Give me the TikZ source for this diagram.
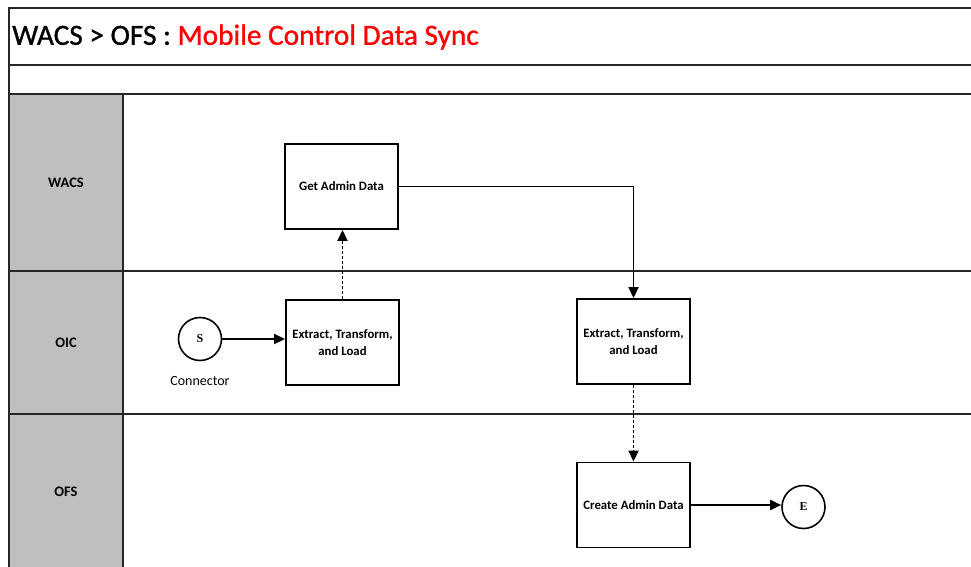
\documentclass[tikz,border=0pt]{standalone}
\usepackage{fontspec}
\setmainfont{Carlito}
\newfontfamily\seriffont{Liberation Serif}
\newfontfamily\titlefont[FakeBold=1]{Carlito}
\usetikzlibrary{arrows.meta}
\definecolor{lanegray}{RGB}{191,191,191}
\definecolor{titlered}{RGB}{255,0,0}
\begin{document}
\begin{tikzpicture}[x=1pt,y=-1pt,
  frame/.style={line width=2pt, black!85},
  proc/.style={draw, line width=1.9pt, minimum width=113pt, minimum height=85pt, align=center, font=\fontsize{12.8}{17}\selectfont\bfseries, inner sep=0pt},
  term/.style={draw, circle, line width=1.6pt, minimum size=43pt, inner sep=0pt, font=\seriffont\bfseries\fontsize{12}{14}\selectfont},
  lanelabel/.style={font=\fontsize{14.5}{17}\selectfont\bfseries},
  flow/.style={line width=1.8pt, -{Triangle[length=11pt,width=10pt]}},
  dflow/.style={flow, dash pattern=on 3pt off 2pt}]
\useasboundingbox (0,0) rectangle (971,567);
% swimlane frame
\fill[lanegray] (9,94) rectangle (123,580);
\draw[frame] (985,8) -- (9,8) -- (9,580);
\draw[frame] (9,65) -- (985,65);
\draw[frame] (9,94) -- (985,94);
\draw[frame] (9,271) -- (985,271);
\draw[frame] (9,414) -- (985,414);
\draw[frame] (123,94) -- (123,580);
% title
\node[anchor=west, inner sep=0pt, font=\titlefont\fontsize{29.3}{34}\selectfont] (title) at (12,37) {WACS > OFS : \textcolor{titlered}{Mobile Control Data Sync}};
% lane labels
\node[lanelabel] (lwacs) at (66,183) {WACS};
\node[lanelabel] (loic) at (66,343) {OIC};
\node[lanelabel] (lofs) at (66,492) {OFS};
% nodes
\node[proc] (gad) at (341.5,186.5) {Get Admin Data};
\node[proc] (etl1) at (342.5,342.5) {Extract, Transform,\\and Load};
\node[proc] (etl2) at (633.5,341.5) {Extract, Transform,\\and Load};
\node[proc] (create) at (633.5,505) {Create Admin Data};
\node[term] (s) at (200,339) {S};
\node[font=\fontsize{14}{16}\selectfont] (conn) at (200,381) {Connector};
\node[term] (e) at (803.5,507) {E};
% connectors
\draw[flow] (s.east) -- (s.east -| etl1.west);
\draw[dflow] (etl1.north) -- (etl1.north |- gad.south);
\draw[flow] (gad.east) -| (etl2.north);
\draw[dflow] (etl2.south) -- (create.north);
\draw[flow] (create.east) -- (create.east -| e.west);
\end{tikzpicture}
\end{document}
